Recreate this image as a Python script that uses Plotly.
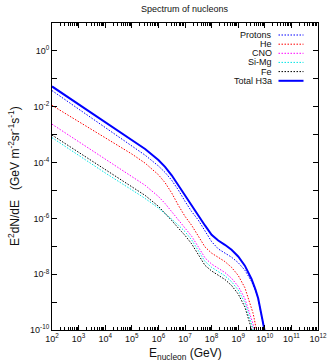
import plotly.graph_objects as go

# energy per nucleon, log10(GeV)
E_EXP = [2, 3, 4, 5, 5.5, 6, 6.25, 6.5, 6.75, 7, 7.25, 7.5, 7.75, 8, 8.25, 8.5,
         8.75, 9, 9.25, 9.5, 9.55, 9.6, 9.65, 9.75, 10, 10.1]

# log10 of E^2 dN/dE
PROTONS = [-1.421, -2.077, -2.733, -3.392, -3.736, -4.122, -4.354, -4.634, -4.983, -5.389,
           -5.756, -6.062, -6.426, -6.833, -7.094, -7.238, -7.392, -7.587, -7.856, -8.256,
           -8.360, -8.474, -8.600, -8.891, -9.941, -10.54]
HELIUM = [-1.951, -2.527, -3.104, -3.693, -4.021, -4.437, -4.721, -5.090, -5.533, -5.928,
          -6.249, -6.631, -7.023, -7.246, -7.388, -7.548, -7.755, -8.045, -8.483, -9.184,
          -9.371, -9.579, -9.81, -10.35, None, None]
CNO = [-2.625, -3.245, -3.860, -4.480, -4.814, -5.215, -5.467, -5.760, -6.066, -6.344,
       -6.641, -7.022, -7.415, -7.638, -7.779, -7.939, -8.146, -8.436, -8.874, -9.575,
       -9.763, -9.97, -10.20, None, None, None]
SIMG = [-3.108, -3.749, -4.372, -4.978, -5.287, -5.630, -5.823, -6.030, -6.243, -6.476,
        -6.771, -7.157, -7.543, -7.755, -7.896, -8.058, -8.269, -8.567, -9.018, -9.742,
        -9.936, -10.15, None, None, None, None]
IRON = [-3.014, -3.630, -4.239, -4.849, -5.177, -5.567, -5.807, -6.076, -6.349, -6.610,
        -6.913, -7.304, -7.682, -7.885, -8.026, -8.190, -8.405, -8.710, -9.174, -9.921,
        -10.12, None, None, None, None, None]
TOTAL = [-1.273, -1.909, -2.541, -3.176, -3.514, -3.909, -4.156, -4.457, -4.818, -5.201,
         -5.547, -5.881, -6.254, -6.590, -6.795, -6.948, -7.127, -7.364, -7.695, -8.170,
         -8.288, -8.415, -8.553, -8.864, -9.939, -10.54]

X_TICK_EXP = list(range(2, 13))
Y_TICK_EXP = list(range(-10, 2))

SERIES = [
    ("Protons", PROTONS, "#0000ff"),
    ("He", HELIUM, "#ff0000"),
    ("CNO", CNO, "#ff00ff"),
    ("Si-Mg", SIMG, "#00e5e5"),
    ("Fe", IRON, "#000000"),
]

FONT = "Liberation Sans, Arial, sans-serif"
DOT = "1.5px,1.5px"
W, H = 327, 362
L, R, T, B = 52, 9, 23, 32
PW, PH = W - L - R, H - T - B


def px_x(px):
    return (px - L) / PW


def px_y(py):
    return (H - B - py) / PH


def lin(vals):
    return [None if v is None else 10 ** v for v in vals]


energy = [10 ** e for e in E_EXP]

fig = go.Figure()
for name, vals, color in SERIES:
    fig.add_trace(go.Scatter(
        x=energy, y=lin(vals), mode="lines", name=name,
        line=dict(color=color, width=1, dash=DOT),
        showlegend=False,
    ))
fig.add_trace(go.Scatter(
    x=energy, y=lin(TOTAL), mode="lines", name="Total H3a",
    line=dict(color="#0000ff", width=2), showlegend=False,
))

# legend drawn by hand: text on the left, sample on the right (gnuplot style)
legend_rows = [(n, c, DOT, 1) for n, _, c in SERIES] + [("Total H3a", "#0000ff", "solid", 2)]
row_y = [35, 44.2, 53.3, 62.4, 71.6, 80.8]
shapes = []
annotations = []
for (name, color, dash, width), yy in zip(legend_rows, row_y):
    annotations.append(dict(
        text=name, x=px_x(273.5), y=px_y(yy), xref="paper", yref="paper",
        xanchor="right", yanchor="middle", showarrow=False,
        font=dict(size=9, color="#111", family=FONT),
    ))
    shapes.append(dict(
        type="line", xref="paper", yref="paper",
        x0=px_x(278.5), x1=px_x(303.5), y0=px_y(yy), y1=px_y(yy),
        line=dict(color=color, width=width, dash=dash),
    ))

annotations += [
    dict(text="Spectrum of nucleons", x=0.5, y=px_y(9), xref="paper", yref="paper",
         xanchor="center", yanchor="middle", showarrow=False,
         font=dict(size=9, color="#111", family=FONT)),
    dict(text="E<sub>nucleon</sub> (GeV)", x=0.5, y=px_y(354), xref="paper", yref="paper",
         xanchor="center", yanchor="middle", showarrow=False,
         font=dict(size=12, color="#111", family=FONT)),
    dict(text="E<sup>2</sup>dN/dE   (GeV m<sup>-2</sup>sr<sup>-1</sup>s<sup>-1</sup>)",
         x=px_x(14), y=px_y(176), xref="paper", yref="paper", textangle=-90,
         xanchor="center", yanchor="middle", showarrow=False,
         font=dict(size=12, color="#111", family=FONT)),
]

fig.update_xaxes(
    type="log", range=[2 - 1e-6, 12 + 1e-6], automargin=False,
    tickvals=[10 ** e for e in X_TICK_EXP],
    ticktext=[f"10<sup>{e}</sup>" for e in X_TICK_EXP],
    ticklabeloverflow="allow",
    ticks="inside", ticklen=5, tickcolor="black",
    minor=dict(ticks="inside", ticklen=3, tickcolor="black", dtick="D1", showgrid=False),
    showline=True, linecolor="black", linewidth=1, mirror="allticks",
    showgrid=False, zeroline=False,
    tickfont=dict(size=9, color="#111", family=FONT),
)
fig.update_yaxes(
    type="log", range=[-10 - 1e-6, 1 + 1e-6], automargin=False,
    tickvals=[10 ** e for e in Y_TICK_EXP],
    ticktext=[f"10<sup>{e}</sup>" if e % 2 == 0 else "" for e in Y_TICK_EXP],
    ticklabeloverflow="allow",
    ticks="inside", ticklen=5, tickcolor="black",
    showline=True, linecolor="black", linewidth=1, mirror="allticks",
    showgrid=False, zeroline=False,
    tickfont=dict(size=9, color="#111", family=FONT),
)
fig.update_layout(
    width=W, height=H,
    margin=dict(l=L, r=R, t=T, b=B),
    plot_bgcolor="white", paper_bgcolor="white",
    shapes=shapes, annotations=annotations,
    showlegend=False,
)
fig.write_html(
    "out.html",
    config={"displayModeBar": False},
    post_script=(
        "document.documentElement.style.overflow='hidden';"
        "document.body.style.margin='0';document.body.style.overflow='hidden';"
    ),
)
